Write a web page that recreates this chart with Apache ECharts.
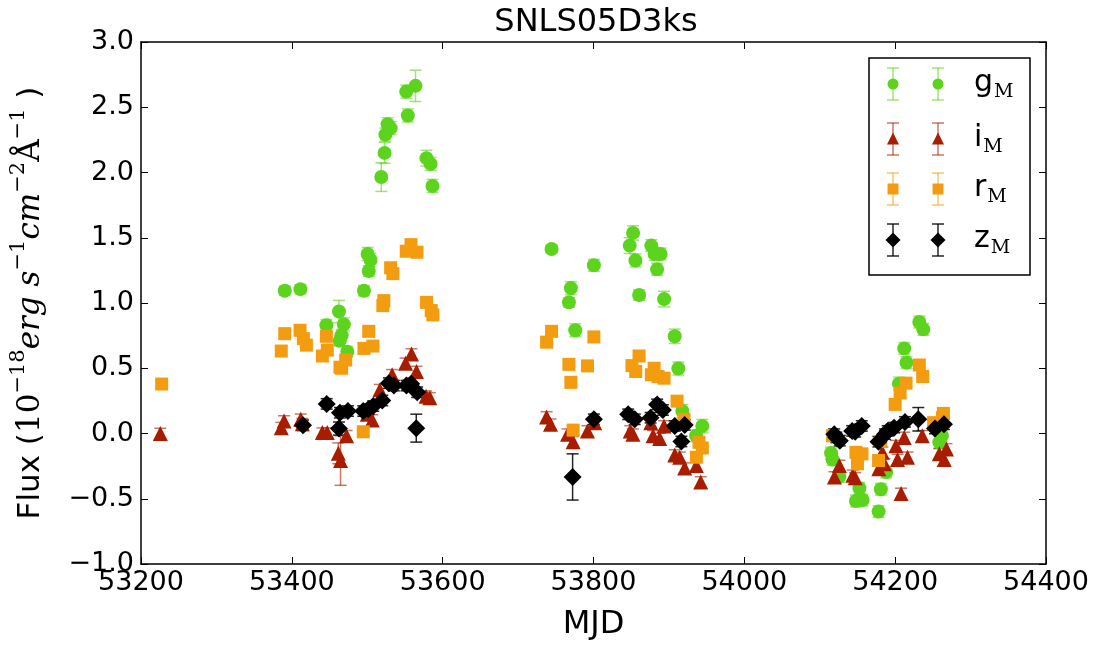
<!DOCTYPE html>
<html>
<head>
<meta charset="utf-8">
<title>SNLS05D3ks</title>
<script src="https://cdn.jsdelivr.net/npm/echarts@6/dist/echarts.min.js"></script>
<style>
  html, body { margin: 0; padding: 0; background: #fff; }
  #chart { width: 1099px; height: 646px; }
</style>
</head>
<body>
<div id="chart"></div>
<script>
// Light curve of SNLS05D3ks: flux per band versus MJD, with 1-sigma error bars.

// g_M band
const G_MJD = [53390.6, 53411.4, 53445.8, 53462.5, 53463.4, 53466, 53469, 53473.6, 53495.6, 53500.5, 53502, 53504.4,
  53518.6, 53523, 53524, 53527, 53531, 53551.7, 53553.8, 53564, 53578.5, 53584, 53586.5,
  53744.4, 53767.4, 53770, 53775.8, 53800.5, 53848, 53852.5, 53855.6, 53860.5, 53876.6, 53881, 53884.3, 53889,
  53893.6, 53907.7, 53912.5, 53917.8, 53936, 53944.3,
  54115, 54117, 54126, 54148, 54152.6, 54156.8, 54178, 54181, 54188, 54205, 54212, 54215, 54232, 54237.3, 54258.5, 54262];
const G_FLUX = [1.094, 1.106, 0.829, 0.935, 0.71, 0.753, 0.836, 0.627, 1.094, 1.376, 1.245, 1.329,
  1.965, 2.15, 2.29, 2.37, 2.34, 2.62, 2.437, 2.664, 2.11, 2.066, 1.897,
  1.414, 1.005, 1.114, 0.791, 1.289, 1.44, 1.537, 1.326, 1.061, 1.44, 1.376, 1.258, 1.376,
  1.03, 0.745, 0.498, 0.172, -0.017, 0.058,
  -0.15, -0.2, -0.33, -0.517, -0.42, -0.51, -0.598, -0.427, -0.295, 0.382, 0.652, 0.543, 0.854, 0.798, -0.068, -0.017];
const G_ERR = [0.035, 0.035, 0.045, 0.085, 0.04, 0.045, 0.05, 0.04, 0.04, 0.05, 0.04, 0.05,
  0.11, 0.08, 0.05, 0.05, 0.05, 0.05, 0.05, 0.12, 0.06, 0.05, 0.05,
  0.03, 0.035, 0.05, 0.05, 0.045, 0.06, 0.055, 0.05, 0.04, 0.045, 0.05, 0.045, 0.045,
  0.06, 0.055, 0.05, 0.05, 0.045, 0.05,
  0.045, 0.045, 0.045, 0.045, 0.045, 0.045, 0.045, 0.045, 0.045, 0.05, 0.045, 0.045, 0.045, 0.045, 0.045, 0.045];

// i_M band
const I_MJD = [53225.6, 53386, 53389.7, 53411.8, 53414, 53440.5, 53447, 53461.6, 53464.6, 53472.6, 53500, 53506.6,
  53516.7, 53533, 53550.8, 53558.7, 53565.3, 53578, 53583,
  53737.8, 53743, 53765.6, 53773, 53792, 53801.6, 53848.7, 53852.3, 53876, 53879, 53887.8, 53893.5,
  53907.7, 53914.3, 53920.9, 53936.4, 53942.2,
  54119.5, 54126, 54143.8, 54147, 54178.3, 54183, 54185.7, 54201, 54203.2, 54207.8, 54212, 54216.4, 54235.9,
  54258.5, 54265, 54268];
const I_FLUX = [0.0, 0.045, 0.096, 0.109, 0.075, 0.008, 0.008, -0.152, -0.207, -0.017, 0.147, 0.104,
  0.336, 0.45, 0.538, 0.609, 0.475, 0.286, 0.273,
  0.127, 0.071, -0.005, -0.063, 0.02, 0.083, 0.02, -0.005, 0.083, -0.017, -0.038, 0.058,
  -0.164, -0.182, -0.265, -0.245, -0.371,
  -0.333, -0.245, -0.32, -0.34, -0.27, -0.144, -0.232, -0.093, -0.2, -0.459, -0.03, -0.182, -0.017,
  -0.156, -0.2, -0.118];
const I_ERR = [0.04, 0.04, 0.04, 0.04, 0.04, 0.035, 0.035, 0.08, 0.19, 0.04, 0.04, 0.04,
  0.04, 0.04, 0.04, 0.04, 0.04, 0.04, 0.04,
  0.04, 0.04, 0.04, 0.04, 0.04, 0.04, 0.04, 0.04, 0.04, 0.04, 0.04, 0.04,
  0.04, 0.04, 0.04, 0.04, 0.04,
  0.04, 0.04, 0.04, 0.04, 0.04, 0.04, 0.04, 0.04, 0.04, 0.04, 0.04, 0.04, 0.04,
  0.04, 0.04, 0.04];

// r_M band
const R_MJD = [53227.4, 53386, 53390.6, 53410.9, 53415.3, 53419.3, 53440.5, 53445.8, 53447, 53463.8, 53466, 53471.4,
  53494.7, 53495.6, 53502, 53507.5, 53520.7, 53522, 53531, 53534, 53551.7, 53558, 53566, 53578.6, 53584.8, 53587,
  53737.8, 53744.4, 53767.4, 53770, 53773, 53792, 53800.5, 53851, 53856, 53860.4, 53876.7, 53880.4, 53885.6,
  53893.6, 53910.8, 53920, 53936.4, 53939.9, 53944.3,
  54117, 54148, 54150, 54156, 54178, 54181, 54200, 54206.5, 54214.4, 54232, 54236.5, 54251, 54262.7, 54264];
const R_FLUX = [0.379, 0.632, 0.765, 0.791, 0.727, 0.677, 0.594, 0.745, 0.639, 0.508, 0.5, 0.563,
  0.013, 0.652, 0.783, 0.67, 0.98, 1.018, 1.27, 1.225, 1.397, 1.447, 1.389, 1.005, 0.942, 0.909,
  0.70, 0.783, 0.53, 0.392, 0.026, 0.518, 0.74, 0.52, 0.475, 0.594, 0.45, 0.5, 0.437,
  0.424, 0.248, 0.109, -0.182, -0.068, -0.111,
  -0.017, -0.144, -0.232, -0.156, -0.207, -0.06, 0.223, 0.31, 0.386, 0.525, 0.437, 0.083, 0.121, 0.154];
const R_ERR = R_FLUX.map(() => 0.04);

// z_M band
const Z_MJD = [53414.8, 53446.2, 53462.5, 53463.8, 53474.4, 53494.7, 53501.4, 53508, 53519.9, 53528.7, 53535.3,
  53552, 53558.3, 53565, 53566.2,
  53772.3, 53800.5, 53846, 53854.7, 53875.7, 53884.4, 53892, 53907.7, 53916.5, 53920.9,
  54119.2, 54122, 54126.6, 54143, 54147, 54155.7, 54177.8, 54186.6, 54190, 54198.5, 54213, 54230.7, 54252.8, 54264.7];
const Z_FLUX = [0.063, 0.227, 0.038, 0.159, 0.172, 0.172, 0.185, 0.21, 0.253, 0.386, 0.367,
  0.367, 0.382, 0.041, 0.316,
  -0.333, 0.109, 0.147, 0.109, 0.121, 0.223, 0.18, 0.058, -0.061, 0.066,
  -0.005, -0.03, -0.055, 0.02, 0.013, 0.058, -0.063, -0.005, 0.02, 0.045, 0.089, 0.109, 0.038, 0.071];
const Z_ERR = [0.04, 0.04, 0.05, 0.04, 0.04, 0.04, 0.04, 0.04, 0.04, 0.04, 0.04,
  0.04, 0.04, 0.107, 0.04,
  0.177, 0.04, 0.04, 0.04, 0.04, 0.04, 0.04, 0.04, 0.04, 0.04,
  0.04, 0.04, 0.04, 0.04, 0.04, 0.04, 0.04, 0.04, 0.04, 0.04, 0.04, 0.09, 0.04, 0.04];

// Axis ticks
const X_TICKS = [53200, 53400, 53600, 53800, 54000, 54200, 54400];
const Y_TICKS = [-1.0, -0.5, 0.0, 0.5, 1.0, 1.5, 2.0, 2.5, 3.0];

const TITLE = 'SNLS05D3ks';
const SANS = 'DejaVu Sans';
const SERIF = 'DejaVu Serif';

const BANDS = [
  { key: 'g', mjd: G_MJD, flux: G_FLUX, err: G_ERR, color: '#5cd41e', bar: 'rgba(92,212,30,0.6)', symbol: 'circle', size: 14 },
  { key: 'i', mjd: I_MJD, flux: I_FLUX, err: I_ERR, color: '#a81c00', bar: 'rgba(168,28,0,0.6)', symbol: 'triangle', size: 15 },
  { key: 'r', mjd: R_MJD, flux: R_FLUX, err: R_ERR, color: '#f39c10', bar: 'rgba(243,156,16,0.6)', symbol: 'rect', size: 13 },
  { key: 'z', mjd: Z_MJD, flux: Z_FLUX, err: Z_ERR, color: '#000000', bar: 'rgba(0,0,0,0.85)', symbol: 'diamond', size: 18 }
];

function errorBarRenderer(color) {
  return function (params, api) {
    const x = api.value(0), y = api.value(1), e = api.value(2);
    const top = api.coord([x, y + e]);
    const bot = api.coord([x, y - e]);
    const hw = 6;
    const st = { stroke: color, lineWidth: 1.5 };
    return {
      type: 'group',
      children: [
        { type: 'line', shape: { x1: top[0], y1: top[1], x2: bot[0], y2: bot[1] }, style: st },
        { type: 'line', shape: { x1: top[0] - hw, y1: top[1], x2: top[0] + hw, y2: top[1] }, style: st },
        { type: 'line', shape: { x1: bot[0] - hw, y1: bot[1], x2: bot[0] + hw, y2: bot[1] }, style: st }
      ]
    };
  };
}

const series = [];
BANDS.forEach(b => {
  const pts = b.mjd.map((m, i) => [m, b.flux[i], b.err[i]]);
  series.push({
    type: 'custom', name: b.key + '_err', renderItem: errorBarRenderer(b.bar),
    data: pts, xAxisIndex: 0, yAxisIndex: 0, silent: true, z: 2
  });
  series.push({
    type: 'scatter', name: b.key, data: pts.map(p => [p[0], p[1]]),
    symbol: b.symbol, symbolSize: b.size, xAxisIndex: 0, yAxisIndex: 0, z: 2,
    itemStyle: { color: b.color, opacity: 1, borderWidth: 0 }
  });
});

const X_MIN = X_TICKS[0], X_MAX = X_TICKS[X_TICKS.length - 1];
const Y_MIN = Y_TICKS[0], Y_MAX = Y_TICKS[Y_TICKS.length - 1];

const frameLine = { show: true, onZero: false, lineStyle: { color: '#000', width: 1.5 } };
const tickIn = { show: true, inside: true, length: 7, lineStyle: { color: '#000', width: 1 } };
const labelFont = { fontSize: 27, color: '#000', fontFamily: SANS };

// Legend drawn as graphic elements: two markers with error bars per entry
const LEG = { x: 869, y: 58, w: 161, h: 217, rows: [84, 139, 189, 240], mx: [893, 938], tx: 974 };
function legendMarker(b, cx, cy) {
  const els = [];
  const bs = { stroke: b.bar, lineWidth: 1.5 };
  els.push({ type: 'line', shape: { x1: cx, y1: cy - 16, x2: cx, y2: cy + 16 }, style: bs });
  els.push({ type: 'line', shape: { x1: cx - 6, y1: cy - 16, x2: cx + 6, y2: cy - 16 }, style: bs });
  els.push({ type: 'line', shape: { x1: cx - 6, y1: cy + 16, x2: cx + 6, y2: cy + 16 }, style: bs });
  const fill = { fill: b.color };
  if (b.symbol === 'circle') els.push({ type: 'circle', shape: { cx, cy, r: 5.5 }, style: fill });
  if (b.symbol === 'triangle') els.push({ type: 'polygon', shape: { points: [[cx, cy - 6.5], [cx + 6, cy + 5.5], [cx - 6, cy + 5.5]] }, style: fill });
  if (b.symbol === 'rect') els.push({ type: 'rect', shape: { x: cx - 5.5, y: cy - 5.5, width: 11, height: 11 }, style: fill });
  if (b.symbol === 'diamond') els.push({ type: 'polygon', shape: { points: [[cx, cy - 7.5], [cx + 7.5, cy], [cx, cy + 7.5], [cx - 7.5, cy]] }, style: fill });
  return els;
}
const legendEls = [{
  type: 'rect', shape: { x: LEG.x, y: LEG.y, width: LEG.w, height: LEG.h },
  style: { fill: '#fff', stroke: '#000', lineWidth: 1.5 }, z: 10
}];
BANDS.forEach((b, k) => {
  const cy = LEG.rows[k];
  LEG.mx.forEach(cx => legendMarker(b, cx, cy).forEach(e => { e.z = 11; legendEls.push(e); }));
  legendEls.push({
    type: 'text', x: LEG.tx, y: cy - 1, z: 11,
    style: {
      text: '{b|' + b.key + '}{s|M}', verticalAlign: 'middle', align: 'left',
      rich: {
        b: { fontFamily: SANS, fontSize: 30, fill: '#000' },
        s: { fontFamily: SERIF, fontSize: 19, fill: '#000', padding: [18, 0, 0, 1] }
      }
    }
  });
});

const chart = echarts.init(document.getElementById('chart'), null, { renderer: 'canvas' });
chart.setOption({
  animation: false,
  backgroundColor: '#fff',
  title: {
    text: TITLE, left: 591, top: 2, textAlign: 'center',
    textStyle: { fontFamily: SANS, fontSize: 32, fontWeight: 'normal', color: '#000' }
  },
  grid: { left: 137, right: 53, top: 42, bottom: 77, containLabel: false },
  xAxis: [
    {
      type: 'value', position: 'bottom', min: X_MIN, max: X_MAX, interval: 200,
      axisLine: frameLine, axisTick: tickIn, splitLine: { show: false },
      axisLabel: Object.assign({ margin: 5, formatter: v => String(v) }, labelFont),
      name: 'MJD', nameLocation: 'middle', nameGap: 45,
      nameTextStyle: { fontFamily: SANS, fontSize: 32, color: '#000' }
    },
    {
      type: 'value', position: 'top', min: X_MIN, max: X_MAX, interval: 200,
      axisLine: frameLine, axisTick: tickIn, splitLine: { show: false }, axisLabel: { show: false }
    }
  ],
  yAxis: [
    {
      type: 'value', position: 'left', min: Y_MIN, max: Y_MAX, interval: 0.5,
      axisLine: frameLine, axisTick: tickIn, splitLine: { show: false },
      axisLabel: Object.assign({ margin: 7, formatter: v => v.toFixed(1).replace('-', '\u2212') }, labelFont),
      name: '{a|Flux (}{b|10}{s|\u221218}{i|erg s}{s|\u22121}{i|cm}{s|\u22122}{b|\u00c5}{s|\u22121}{a| )}',
      nameLocation: 'middle', nameGap: 88, nameRotate: 90,
      nameTextStyle: {
        rich: {
          a: { fontFamily: SANS, fontSize: 31, color: '#000' },
          b: { fontFamily: SERIF, fontSize: 31, color: '#000' },
          i: { fontFamily: SERIF, fontStyle: 'italic', fontSize: 31, color: '#000' },
          s: { fontFamily: SERIF, fontSize: 21, color: '#000', padding: [0, 0, 24, 0] }
        }
      }
    },
    {
      type: 'value', position: 'right', min: Y_MIN, max: Y_MAX, interval: 0.5,
      axisLine: frameLine, axisTick: tickIn, splitLine: { show: false }, axisLabel: { show: false }
    }
  ],
  graphic: legendEls,
  series: series
});
</script>
</body>
</html>
